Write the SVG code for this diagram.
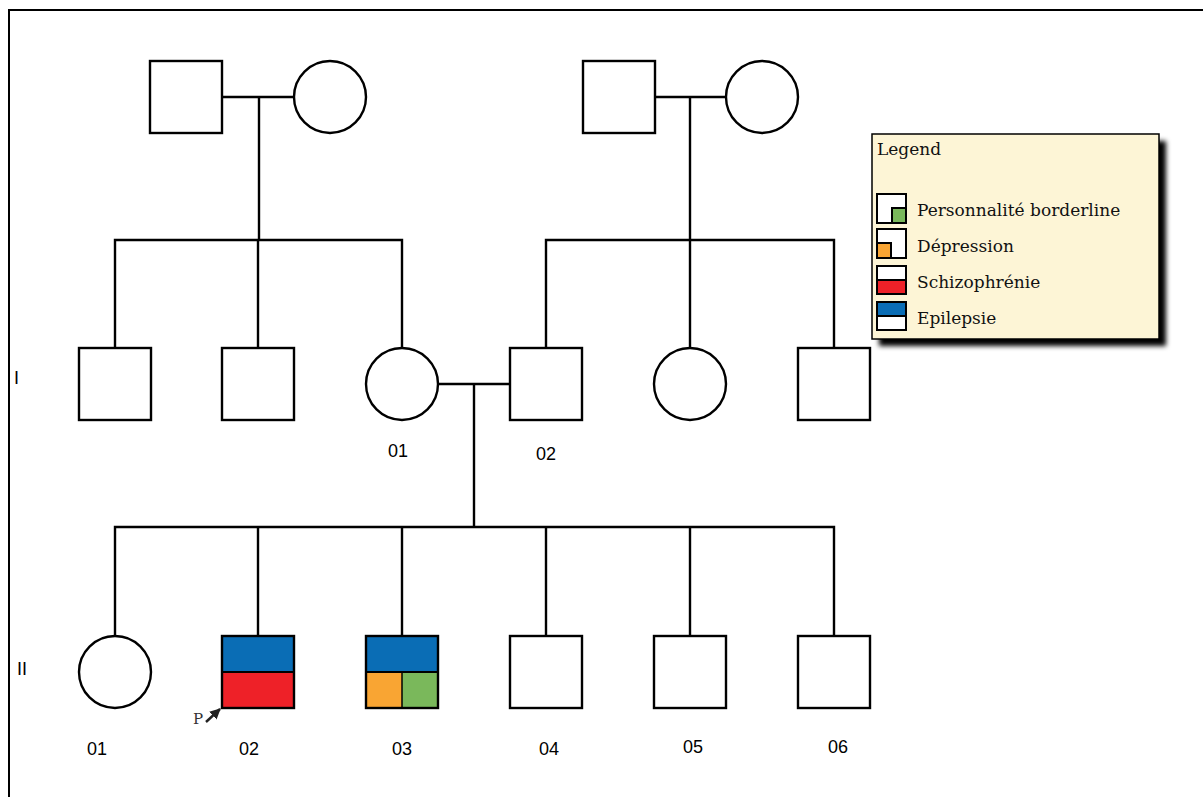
<svg xmlns="http://www.w3.org/2000/svg" width="1203" height="797" viewBox="0 0 1203 797">
<defs>
<style>
.n{fill:#fff;stroke:#000;stroke-width:2.4}
.c line,.c polyline{stroke:#000;stroke-width:2.4;fill:none}
.lbl{font-family:"Liberation Sans",Arial,sans-serif;font-size:18px;fill:#000}
.lg{font-family:"DejaVu Serif",serif;font-size:17px;fill:#111}
.ic{stroke:#000;stroke-width:2;fill:none}
.icw{stroke:#000;stroke-width:2;fill:#fff}
</style>
<filter id="sh" x="-10%" y="-10%" width="130%" height="130%">
<feGaussianBlur stdDeviation="2.5"/>
</filter>
<marker id="ah" viewBox="0 0 10 10" refX="9" refY="5" markerWidth="4.5" markerHeight="4.5" orient="auto">
<path d="M0,0 L10,5 L0,10 z" fill="#222"/>
</marker>
</defs>
<rect width="1203" height="797" fill="#fff"/>
<rect x="9" y="10" width="1210" height="800" fill="none" stroke="#000" stroke-width="2"/>

<g class="c" id="connectors">
<line x1="222" y1="97" x2="294" y2="97"/>
<line x1="259" y1="97" x2="259" y2="240"/>
<polyline points="115,348 115,240 402,240 402,348"/>
<line x1="258" y1="240" x2="258" y2="348"/>
<line x1="655" y1="97" x2="726" y2="97"/>
<line x1="690" y1="97" x2="690" y2="348"/>
<polyline points="546,348 546,240 834,240 834,348"/>
<line x1="438" y1="384" x2="510" y2="384"/>
<line x1="474" y1="384" x2="474" y2="527"/>
<polyline points="115,636 115,527 834,527 834,636"/>
<line x1="258" y1="527" x2="258" y2="636"/>
<line x1="402" y1="527" x2="402" y2="636"/>
<line x1="546" y1="527" x2="546" y2="636"/>
<line x1="690" y1="527" x2="690" y2="636"/>
</g>

<g id="gp1-father"><rect class="n" x="150" y="61" width="72" height="72"/></g>
<g id="gp1-mother"><circle class="n" cx="330" cy="97" r="36"/></g>
<g id="gp2-father"><rect class="n" x="583" y="61" width="72" height="72"/></g>
<g id="gp2-mother"><circle class="n" cx="762" cy="97" r="36"/></g>

<g id="I-a"><rect class="n" x="79" y="348" width="72" height="72"/></g>
<g id="I-b"><rect class="n" x="222" y="348" width="72" height="72"/></g>
<g id="I-01"><circle class="n" cx="402" cy="384" r="36"/><text class="lbl" x="398" y="457" text-anchor="middle">01</text></g>
<g id="I-02"><rect class="n" x="510" y="348" width="72" height="72"/><text class="lbl" x="546" y="460" text-anchor="middle">02</text></g>
<g id="I-c"><circle class="n" cx="690" cy="384" r="36"/></g>
<g id="I-d"><rect class="n" x="798" y="348" width="72" height="72"/></g>

<g id="II-01"><circle class="n" cx="115" cy="672" r="36"/><text class="lbl" x="97" y="755" text-anchor="middle">01</text></g>
<g id="II-02">
<rect x="222" y="636" width="72" height="36" fill="#0a6db5"/>
<rect x="222" y="672" width="72" height="36" fill="#ee2128"/>
<line x1="222" y1="672" x2="294" y2="672" stroke="#000" stroke-width="2"/>
<rect x="222" y="636" width="72" height="72" fill="none" stroke="#000" stroke-width="2.4"/>
<text x="193" y="724" font-family="DejaVu Serif,serif" font-size="15" fill="#333">P</text>
<line x1="206" y1="722" x2="220" y2="709" stroke="#222" stroke-width="2.4" marker-end="url(#ah)"/>
<text class="lbl" x="249" y="755" text-anchor="middle">02</text>
</g>
<g id="II-03">
<rect x="366" y="636" width="72" height="36" fill="#0a6db5"/>
<rect x="366" y="672" width="36" height="36" fill="#f9a533"/>
<rect x="402" y="672" width="36" height="36" fill="#7ab85b"/>
<line x1="366" y1="672" x2="438" y2="672" stroke="#000" stroke-width="2"/>
<line x1="402" y1="672" x2="402" y2="708" stroke="#000" stroke-width="1.5"/>
<rect x="366" y="636" width="72" height="72" fill="none" stroke="#000" stroke-width="2.4"/>
<text class="lbl" x="402" y="755" text-anchor="middle">03</text>
</g>
<g id="II-04"><rect class="n" x="510" y="636" width="72" height="72"/><text class="lbl" x="549" y="755" text-anchor="middle">04</text></g>
<g id="II-05"><rect class="n" x="654" y="636" width="72" height="72"/><text class="lbl" x="693" y="753" text-anchor="middle">05</text></g>
<g id="II-06"><rect class="n" x="798" y="636" width="72" height="72"/><text class="lbl" x="838" y="753" text-anchor="middle">06</text></g>

<text class="lbl" x="14" y="384">I</text>
<text class="lbl" x="17" y="675">II</text>

<g id="legend">
<rect x="879" y="141" width="287" height="205" fill="#000" filter="url(#sh)"/>
<rect x="872" y="134" width="287" height="205" fill="#fdf5d6" stroke="#000" stroke-width="1.5"/>
<text class="lg" x="877" y="155">Legend</text>
<rect class="icw" x="877" y="194" width="29" height="29"/>
<rect x="892" y="208" width="14" height="15" fill="#7ab85b"/>
<polyline points="892,223 892,208 906,208" class="ic" stroke-width="1.5"/>
<rect class="ic" x="877" y="194" width="29" height="29"/>
<text class="lg" x="917" y="216">Personnalité borderline</text>
<rect class="icw" x="877" y="229" width="29" height="29"/>
<rect x="877" y="243" width="14" height="15" fill="#f9a533"/>
<polyline points="877,243 891,243 891,258" class="ic" stroke-width="1.5"/>
<rect class="ic" x="877" y="229" width="29" height="29"/>
<text class="lg" x="917" y="252">Dépression</text>
<rect class="icw" x="877" y="266" width="29" height="28"/>
<rect x="877" y="280" width="29" height="14" fill="#ee2128"/>
<line x1="877" y1="280" x2="906" y2="280" class="ic" stroke-width="1.5"/>
<rect class="ic" x="877" y="266" width="29" height="28"/>
<text class="lg" x="917" y="288">Schizophrénie</text>
<rect class="icw" x="877" y="302" width="29" height="28"/>
<rect x="877" y="302" width="29" height="14" fill="#0a6db5"/>
<line x1="877" y1="316" x2="906" y2="316" class="ic" stroke-width="1.5"/>
<rect class="ic" x="877" y="302" width="29" height="28"/>
<text class="lg" x="917" y="324">Epilepsie</text>
</g>
</svg>
